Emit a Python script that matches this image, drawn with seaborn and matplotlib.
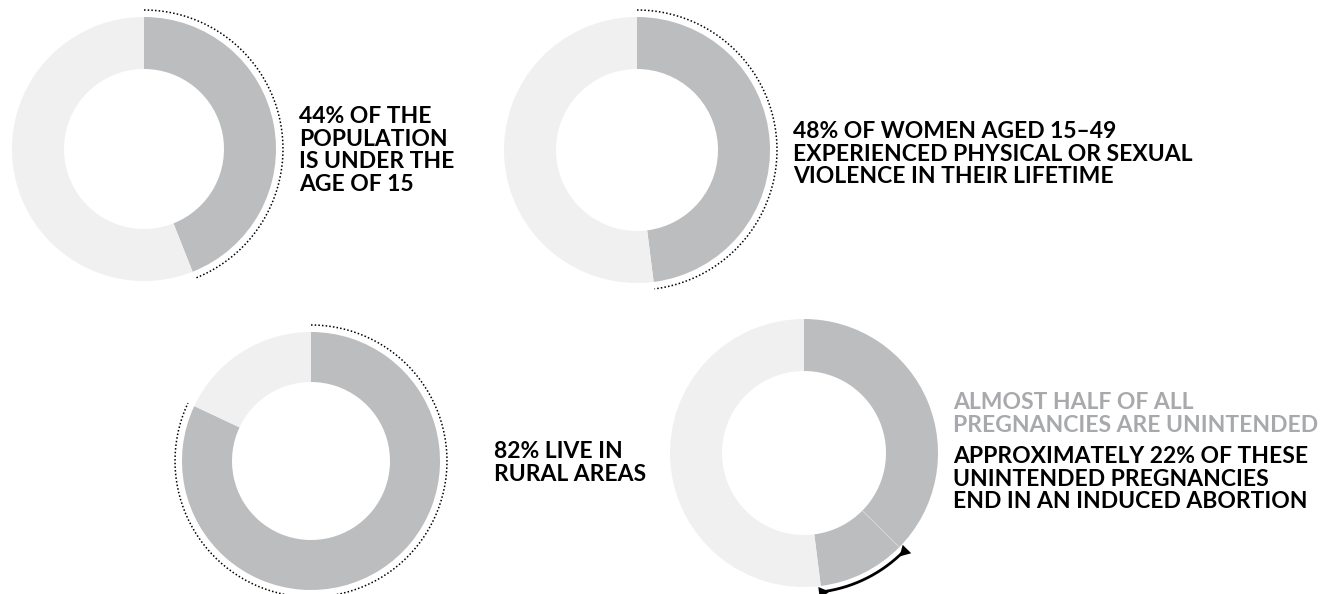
import numpy as np
import matplotlib
matplotlib.use("Agg")
import matplotlib.pyplot as plt
import seaborn as sns

# ---- data ----
share_labels = ["Under 15", "Violence", "Rural", "Unintended"]
under15 = [44, 56]
violence = [48, 52]
rural = [82, 18]
unintended_abort = 10.6   # ~22% of 48%
unintended_other = 37.4
intended = 52
pregnancy = [unintended_other, unintended_abort, intended]

text1 = "44% OF THE\nPOPULATION\nIS UNDER THE\nAGE OF 15"
text2 = "48% OF WOMEN AGED 15\u201349\nEXPERIENCED PHYSICAL OR SEXUAL\nVIOLENCE IN THEIR LIFETIME"
text3 = "82% LIVE IN\nRURAL AREAS"
text4_gray = "ALMOST HALF OF ALL\nPREGNANCIES ARE UNINTENDED"
text4_black = "APPROXIMATELY 22% OF THESE\nUNINTENDED PREGNANCIES\nEND IN AN INDUCED ABORTION"

# ---- style ----
sns.set_theme(style="white")
plt.rcParams['font.family'] = ['Lato', 'DejaVu Sans']
DARK = "#BCBDBF"
LIGHT = "#F0F0F0"
GRAYTXT = "#A7A9AC"

W, H = 1322, 594
fig = plt.figure(figsize=(W / 100, H / 100), dpi=100)
ax = fig.add_axes([0, 0, 1, 1])

def Y(y):
    return H - y

def donut(vals, colors, cx, cy, r, w):
    ax.pie(vals, colors=colors, startangle=90, counterclock=False,
           radius=r, center=(cx, Y(cy)),
           wedgeprops=dict(width=w, edgecolor='none', linewidth=0))

def arc_pts(cx, cy, r, a0, a1, n=200):
    t = np.radians(np.linspace(a0, a1, n))
    return cx + r * np.cos(t), Y(cy) + r * np.sin(t)

def dotted_arc(cx, cy, r, frac):
    x, y = arc_pts(cx, cy, r, 90, 90 - 360 * frac / 100)
    ax.plot(x, y, color="black", lw=1.1, ls=(0, (1.0, 1.4)))

# donut 1
donut(under15, [DARK, LIGHT], 144, 149, 132, 52)
dotted_arc(144, 149, 139, under15[0])
# donut 2
donut(violence, [DARK, LIGHT], 637, 150, 133, 52)
dotted_arc(637, 150, 140, violence[0])
# donut 3
donut(rural, [DARK, LIGHT], 311, 461, 129, 50)
dotted_arc(311, 461, 136, rural[0])
# donut 4
cx4, cy4, r4, w4 = 804, 453, 134, 52
donut(pregnancy, [DARK, DARK, LIGHT], cx4, cy4, r4, w4)
a_split = 90 - 360 * pregnancy[0] / 100
a_end = 90 - 360 * (pregnancy[0] + pregnancy[1]) / 100
t = np.radians(a_split)
ax.plot([cx4 + (r4 - w4) * np.cos(t), cx4 + r4 * np.cos(t)],
        [Y(cy4) + (r4 - w4) * np.sin(t), Y(cy4) + r4 * np.sin(t)],
        color="#D6D6D7", lw=0.7)
ra = 140
x, y = arc_pts(cx4, cy4, ra, a_split, a_end)
ax.plot(x, y, color="black", lw=2.0, solid_capstyle='butt')
for a, sgn in [(a_split, -1), (a_end, 1)]:
    tt = np.radians(a)
    px, py = cx4 + ra * np.cos(tt), Y(cy4) + ra * np.sin(tt)
    tang = np.degrees(tt) + (90 if sgn > 0 else -90)
    ax.plot(px, py, marker=(3, 0, tang - 90), markersize=10, color="black",
            markeredgewidth=0)

# ---- texts ----
kw = dict(fontsize=16.5, fontweight='bold', color="black", va='top', ha='left',
          linespacing=1.1)
ax.text(299, Y(106), text1, **kw)
ax.text(793, Y(121), text2, **kw)
ax.text(494, Y(441), text3, **kw)
kw_g = dict(kw)
kw_g['color'] = GRAYTXT
ax.text(953, Y(392), text4_gray, **kw_g)
ax.text(953, Y(446), text4_black, **kw)

ax.set_xlim(0, W)
ax.set_ylim(0, H)
ax.set_aspect('equal')
ax.axis('off')
fig.savefig("out.png", dpi=100)
